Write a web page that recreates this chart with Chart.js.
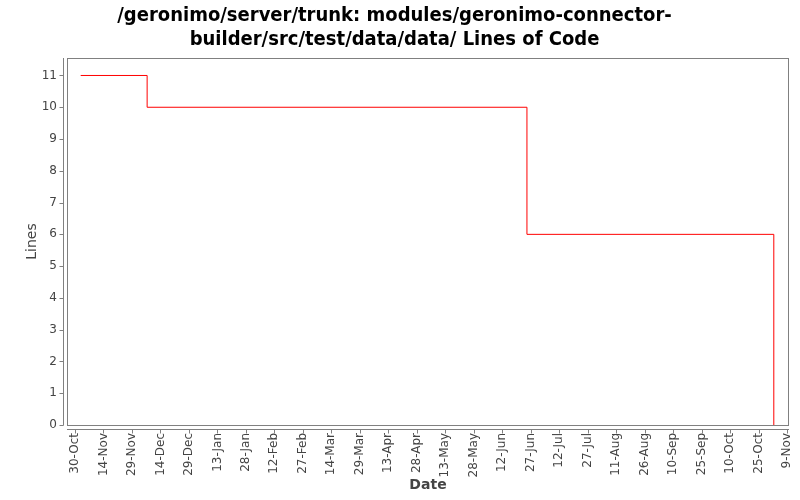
<!DOCTYPE html>
<html>
<head>
<meta charset="utf-8">
<script src="https://cdn.jsdelivr.net/npm/chart.js@4.4.1/dist/chart.umd.min.js"></script>
<style>
  html, body { margin: 0; padding: 0; background: #fff; }
  #wrap { width: 800px; height: 500px; }
</style>
</head>
<body>
<div id="wrap"><canvas id="loc"></canvas></div>
<script>
// Datos (fechas de cambio y lineas de codigo)
const changeDates = ['2006-11-02', '2006-12-07', '2007-06-25', '2007-11-02'];
const lineCounts = [11, 10, 6, 0];

// Etiquetas del eje X, cada 15 dias desde el 30-Oct
const tickLabels = ['30-Oct', '14-Nov', '29-Nov', '14-Dec', '29-Dec', '13-Jan', '28-Jan',
  '12-Feb', '27-Feb', '14-Mar', '29-Mar', '13-Apr', '28-Apr', '13-May', '28-May',
  '12-Jun', '27-Jun', '12-Jul', '27-Jul', '11-Aug', '26-Aug', '10-Sep', '25-Sep',
  '10-Oct', '25-Oct', '9-Nov'];
const yTicks = [0, 1, 2, 3, 4, 5, 6, 7, 8, 9, 10, 11];

const startDay = Date.UTC(2006, 9, 30);
const dayMs = 86400000;
function toDay(s) {
  const p = s.split('-').map(Number);
  return (Date.UTC(p[0], p[1] - 1, p[2]) - startDay) / dayMs;
}

const points = changeDates.map((d, i) => ({ x: toDay(d), y: lineCounts[i] }));

const axisGray = '#808080';
const textGray = '#444444';

// Marco del area y ejes desplazados (estilo JFreeChart)
const framePlugin = {
  id: 'frame',
  afterDraw(chart) {
    const { ctx, chartArea: a, scales } = chart;
    ctx.save();
    ctx.strokeStyle = axisGray;
    ctx.lineWidth = 1;
    ctx.strokeRect(a.left + 0.5, a.top + 0.5, a.right - a.left - 1, a.bottom - a.top);
    ctx.beginPath();
    // eje Y
    const ax = a.left - 3.5;
    ctx.moveTo(ax, a.top);
    ctx.lineTo(ax, a.bottom + 0.5);
    scales.y.ticks.forEach((t, i) => {
      const py = Math.round(scales.y.getPixelForTick(i)) + 0.5;
      ctx.moveTo(ax, py);
      ctx.lineTo(ax - 4, py);
    });
    // eje X
    const ay = a.bottom + 4.5;
    ctx.moveTo(a.left, ay);
    ctx.lineTo(a.right, ay);
    scales.x.ticks.forEach((t, i) => {
      const px = Math.round(scales.x.getPixelForTick(i)) + 0.5;
      ctx.moveTo(px, ay);
      ctx.lineTo(px, ay + 4);
    });
    ctx.stroke();
    ctx.restore();
  }
};

new Chart(document.getElementById('loc'), {
  type: 'line',
  data: {
    datasets: [{
      label: 'Lines of Code',
      data: points,
      stepped: true,
      borderColor: '#ff0000',
      borderWidth: 1,
      pointRadius: 0,
      fill: false
    }]
  },
  options: {
    responsive: true,
    maintainAspectRatio: false,
    animation: false,
    layout: { padding: { left: 0, right: 11, top: 0, bottom: 0 } },
    plugins: {
      legend: { display: false },
      tooltip: { enabled: false },
      title: {
        display: true,
        text: ['/geronimo/server/trunk: modules/geronimo-connector-', 'builder/src/test/data/data/ Lines of Code'],
        color: '#000',
        font: { family: 'DejaVu Sans Condensed', size: 20, weight: 'bold', lineHeight: 1.2 },
        padding: { top: 4, bottom: 6 }
      }
    },
    scales: {
      x: {
        type: 'linear',
        min: -4.2,
        max: 376,
        grid: { display: false, drawTicks: false },
        border: { display: false },
        afterBuildTicks: s => { s.ticks = tickLabels.map((l, i) => ({ value: i * 15 })); },
        afterFit: s => { s.height = 75; s.paddingLeft = 0; s.paddingRight = 0; },
        ticks: {
          autoSkip: false,
          minRotation: 90,
          maxRotation: 90,
          padding: 8,
          color: textGray,
          font: { family: 'DejaVu Sans', size: 12 },
          callback: (v, i) => tickLabels[i]
        },
        title: {
          display: true,
          text: 'Date',
          color: textGray,
          font: { family: 'DejaVu Sans', size: 14, weight: 'bold' },
          padding: { top: 0, bottom: 6 }
        }
      },
      y: {
        type: 'linear',
        min: 0,
        max: 11.55,
        grid: { display: false, drawTicks: false },
        border: { display: false },
        afterBuildTicks: s => { s.ticks = yTicks.map(v => ({ value: v })); },
        afterFit: s => { s.width = 67; s.paddingTop = 0; s.paddingBottom = 0; },
        ticks: {
          padding: 10,
          color: textGray,
          font: { family: 'DejaVu Sans', size: 12 },
          callback: v => String(v)
        },
        title: {
          display: true,
          text: 'Lines',
          color: textGray,
          font: { family: 'DejaVu Sans', size: 14 },
          padding: { top: 24, bottom: 0 }
        }
      }
    }
  },
  plugins: [framePlugin]
});
</script>
</body>
</html>
